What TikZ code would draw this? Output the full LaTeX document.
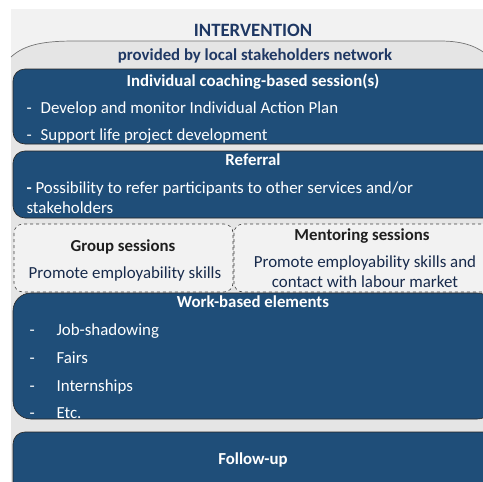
\documentclass[tikz,border=0pt]{standalone}
\usepackage{fontspec}
\setmainfont{Carlito}
\definecolor{navy}{HTML}{1F4E79}
\definecolor{ink}{HTML}{1F3864}
\definecolor{back}{HTML}{F2F2F2}
\definecolor{panel}{HTML}{E5E5E5}
\begin{document}
\begin{tikzpicture}[x=1pt,y=-1pt,
    bluebox/.style={draw=black!85, line width=0.6pt, fill=navy, rounded corners=12pt},
    dashbox/.style={draw=black!75, dashed, line width=0.6pt, fill=back, rounded corners=9pt},
    head/.style={font=\bfseries\fontsize{16.8}{19}\selectfont, text=white, anchor=base},
    item/.style={font=\fontsize{16.9}{19}\selectfont, text=white, anchor=base west},
    darkhead/.style={font=\bfseries\fontsize{16.8}{19}\selectfont, text=black!88, anchor=base},
    darktext/.style={font=\fontsize{16.9}{19}\selectfont, text=ink!75!black, anchor=base}]
  \useasboundingbox (0,0) rectangle (483,482);
  \clip (0,0) rectangle (483,482);
  \fill[white] (0,0) rectangle (483,482);
  \fill[back] (11,9) rectangle (483,482);
  % network panel
  \fill[panel] (11,57) .. controls (25,44) and (45,41) .. (75,41) -- (440,41)
    .. controls (465,41) and (478,47) .. (490,57) -- (490,490) -- (11,490) -- cycle;
  \draw[black!55, line width=0.7pt] (11,57) .. controls (25,44) and (45,41) .. (75,41) -- (440,41)
    .. controls (465,41) and (478,47) .. (490,57);
  \node[font=\bfseries\fontsize{18.8}{21}\selectfont, text=ink, anchor=base] (title) at (253,36) {INTERVENTION};
  \node[font=\bfseries\fontsize{16.8}{19}\selectfont, text=ink, anchor=base] (network) at (255,60) {provided by local stakeholders network};
  % blocks
  \draw[bluebox] (13,69) rectangle (495,144);
  \draw[bluebox] (13,151) rectangle (495,218);
  \draw[dashbox] (14,224) rectangle (233,292);
  \draw[dashbox] (234,224) rectangle (495,292);
  \draw[bluebox, rounded corners=18pt] (13,293) rectangle (495,419);
  \draw[bluebox] (13,432) rectangle (495,495);
  % coaching
  \node[head] (coach) at (253,86) {Individual coaching-based session(s)};
  \node[item] (coach1) at (23,113) {-\hspace{9pt}Develop and monitor Individual Action Plan};
  \node[item] (coach2) at (23,140) {-\hspace{9pt}Support life project development};
  % referral
  \node[head] (referral) at (253,165) {Referral};
  \node[item] (ref1) at (23,193) {\textbf{-} Possibility to refer participants to other services and/or};
  \node[item] (ref2) at (23,213) {stakeholders};
  % sessions
  \node[darkhead] (group) at (123,251) {Group sessions};
  \node[darktext] (group1) at (125,278) {Promote employability skills};
  \node[darkhead] (mentor) at (362,240) {Mentoring sessions};
  \node[darktext] (mentor1) at (365,267) {Promote employability skills and};
  \node[darktext] (mentor2) at (365,287) {contact with labour market};
  % work-based
  \node[head] (work) at (253,307) {Work-based elements};
  \node[item] at (26,335) {-}; \node[item] (work1) at (53,335) {Job-shadowing};
  \node[item] at (26,363) {-}; \node[item] (work2) at (53,363) {Fairs};
  \node[item] at (26,391) {-}; \node[item] (work3) at (53,391) {Internships};
  \node[item] at (26,418) {-}; \node[item] (work4) at (53,418) {Etc.};
  % follow-up
  \node[head] (follow) at (253,464) {Follow-up};
\end{tikzpicture}
\end{document}
